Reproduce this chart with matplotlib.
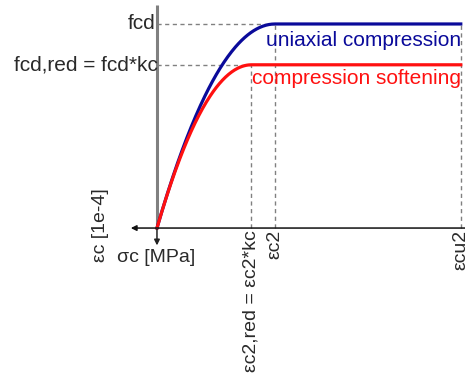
import numpy as np
import matplotlib.pyplot as plt

plt.rcParams['font.family'] = ['Liberation Sans', 'DejaVu Sans']

# values (strain in 1e-4, stress in MPa)
fcd = 20.0
kc = 0.8
eps_c2 = 14.0
eps_cu2 = 36.0
n_exp = 2.0
curve_names = ["uniaxial compression", "compression softening"]
curve_colors = ["#0a0a9a", "#ff1010"]


def parabola_rect(eps, f, e2, ecu):
    s = f * (1 - (1 - eps / e2) ** n_exp)
    return np.where(eps <= e2, s, f)


fig = plt.figure(figsize=(4.65, 3.76), dpi=100)
ax = fig.add_axes([0, 0, 1, 1])
ax.set_xlim(-18.6, 36.5)
ax.set_ylim(-14.5, 22.35)
ax.axis('off')

txt = '#2a2a2a'
dash = dict(color='#808080', lw=1.0, ls=(0, (3, 2.5)))

# guide lines
ax.plot([0, eps_c2], [fcd, fcd], **dash)
ax.plot([0, eps_c2 * kc], [fcd * kc, fcd * kc], **dash)
ax.plot([eps_c2 * kc, eps_c2 * kc], [0, fcd * kc], **dash)
ax.plot([eps_c2, eps_c2], [0, fcd], **dash)
ax.plot([eps_cu2, eps_cu2], [0, fcd], **dash)

# axes with arrows
ax.annotate('', xy=(-3.1, 0), xytext=(36.5, 0),
            arrowprops=dict(arrowstyle='-|>', color='#111111', lw=1.1,
                            mutation_scale=8, shrinkA=0, shrinkB=0))
ax.plot([0, 0], [0, 21.9], color='#808080', lw=2.2, solid_capstyle='butt')
ax.annotate('', xy=(0, -1.7), xytext=(0, 0),
            arrowprops=dict(arrowstyle='-|>', color='#222222', lw=1.1,
                            mutation_scale=8, shrinkA=0, shrinkB=0))

# curves
eps = np.linspace(0, eps_cu2, 400)
ax.plot(eps, parabola_rect(eps, fcd, eps_c2, eps_cu2), color=curve_colors[0], lw=2.3)
ax.plot(eps, parabola_rect(eps, fcd * kc, eps_c2 * kc, eps_cu2), color=curve_colors[1], lw=2.3)

fs = 14
fs_h = 15
ax.text(eps_cu2, fcd - 1.6, curve_names[0], color=curve_colors[0], fontsize=fs_h,
        ha='right', va='center')
ax.text(eps_cu2, fcd * kc - 1.3, curve_names[1], color=curve_colors[1], fontsize=fs_h,
        ha='right', va='center')

# stress labels
ax.text(-0.2, fcd, 'fcd', fontsize=fs_h, color=txt, ha='right', va='center')
ax.text(0.1, fcd * kc, 'fcd,red = fcd*kc', fontsize=fs_h, color=txt, ha='right', va='center')

# strain labels
ax.text(eps_c2 * kc, -0.2, 'εc2,red = εc2*kc', fontsize=fs, color=txt,
        rotation=90, ha='center', va='top')
ax.text(eps_c2, -0.2, 'εc2', fontsize=fs, color=txt, rotation=90, ha='center', va='top')
ax.text(eps_cu2, -0.2, 'εcu2', fontsize=fs, color=txt, rotation=90, ha='center', va='top')

# axis titles
ax.text(-6.7, 0.3, 'εc [1e-4]', fontsize=fs, color=txt, rotation=90, ha='center', va='center')
ax.text(-4.7, -2.9, 'σc [MPa]', fontsize=fs, color=txt, ha='left', va='center')

fig.savefig('out.png', dpi=100)
